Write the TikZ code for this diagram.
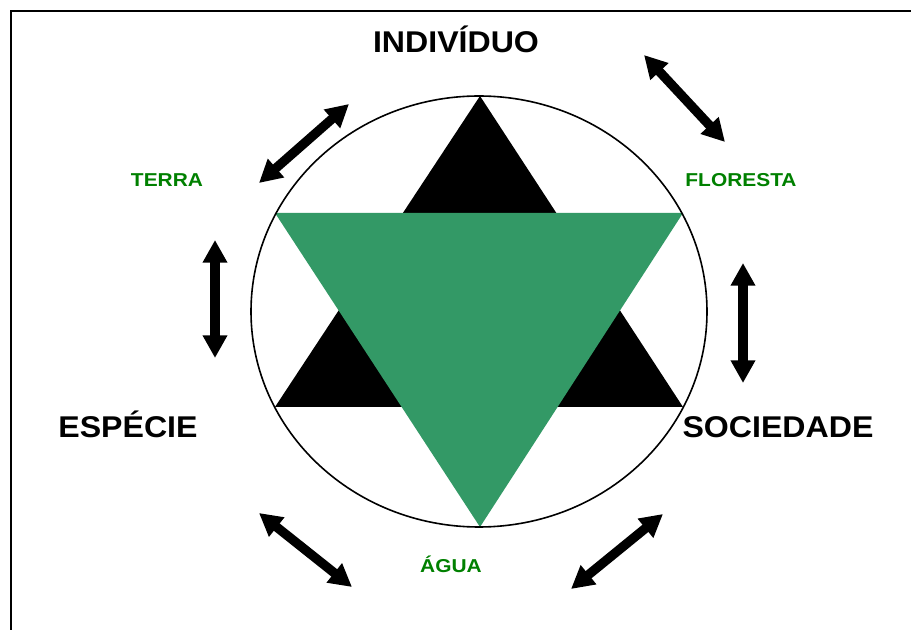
\documentclass[tikz,border=0pt]{standalone}
\usepackage{fontspec}
\setmainfont{Liberation Sans}
\newfontfamily\bigfont{Liberation Sans}[FakeStretch=1.07]
\newfontfamily\smallfont{Liberation Sans}[FakeStretch=1.12]
\usetikzlibrary{arrows.meta}
\definecolor{seagreen}{RGB}{51,153,102}
\definecolor{labelgreen}{RGB}{0,128,0}

\begin{document}
\begin{tikzpicture}
	[
		x=0.75pt, y=-0.75pt,
		big/.style = {anchor=base, inner sep=0pt, font=\bigfont\bfseries\fontsize{22.5pt}{24pt}\selectfont},
		small/.style = {anchor=base, inner sep=0pt, text=labelgreen, font=\smallfont\bfseries\fontsize{14pt}{15pt}\selectfont},
		twoway/.style = {line width=7pt, {Triangle[length=17pt,width=17.5pt]}-{Triangle[length=17pt,width=17.5pt]}},
	]
	\useasboundingbox (0,0) rectangle (911,630);

	% frame
	\draw[line width=1.6pt] (11,640) -- (11,11) -- (915,11);

	% triangles and circle
	\fill[black] (480,96) -- (683,407) -- (275,407) -- cycle;
	\fill[seagreen] (275,213) -- (683,213) -- (480,527) -- cycle;
	\draw[line width=1.2pt] (479,311.5) ellipse [x radius=228, y radius=215.5];

	% main labels
	\node[big] (individuo) 	at ( 456, 53 ) {INDIVÍDUO};
	\node[big] (especie) 	at ( 128, 438 ) {ESPÉCIE};
	\node[big] (sociedade) 	at ( 778, 438 ) {SOCIEDADE};

	% elements
	\node[small] (terra) 	at ( 167, 187 ) {TERRA};
	\node[small] (floresta) at ( 741, 187 ) {FLORESTA};
	\node[small] (agua) 	at ( 451, 573 ) {ÁGUA};

	% arrow ends
	\coordinate (tl1) at ( 349, 104 );
	\coordinate (tl2) at ( 259, 183 );
	\coordinate (tr1) at ( 644,  55 );
	\coordinate (tr2) at ( 725, 142 );
	\coordinate (l1) 	at ( 215, 240 );
	\coordinate (l2) 	at ( 215, 358 );
	\coordinate (r1) 	at ( 743, 263 );
	\coordinate (r2) 	at ( 743, 383 );
	\coordinate (bl1) at ( 259, 513 );
	\coordinate (bl2) at ( 352, 587 );
	\coordinate (br1) at ( 663, 514 );
	\coordinate (br2) at ( 571, 589 );

	\foreach \from/\to in {tl1/tl2,tr1/tr2,l1/l2,r1/r2,bl1/bl2,br1/br2}
	\draw[twoway] (\from) -- (\to);

	\end{tikzpicture}
\end{document}
